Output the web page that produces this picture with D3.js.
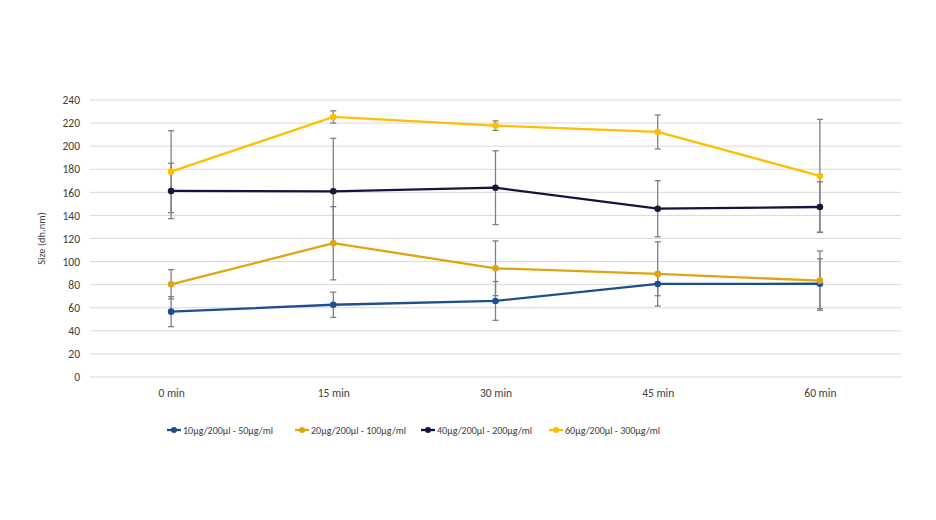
<!DOCTYPE html>
<meta charset="utf-8">
<script src="https://cdn.jsdelivr.net/npm/d3@7"></script>
<style>
body { margin: 0; background: #fff; }
text { font-family: Carlito, Calibri, "Open Sans", "Noto Sans", sans-serif; fill: #404040; }
.grid line { stroke: #d9d9d9; stroke-width: 1; }
.err { stroke: #808080; stroke-width: 1.3; }
</style>
<body>
<script>

var times = ["0 min", "15 min", "30 min", "45 min", "60 min"];
var yTicks = [0, 20, 40, 60, 80, 100, 120, 140, 160, 180, 200, 220, 240];

var names = ["10µg/200µl - 50µg/ml", "20µg/200µl - 100µg/ml", "40µg/200µl - 200µg/ml", "60µg/200µl - 300µg/ml"];
var colors = ["#1f4e8f", "#e0a40f", "#14143f", "#ffbf00"];

// means per series
var s10 = [56.6, 62.6, 65.9, 80.6, 80.8];
var s20 = [80.3, 115.9, 94.2, 89.3, 83.5];
var s40 = [161.2, 160.9, 164.0, 145.8, 147.3];
var s60 = [177.9, 225.3, 217.8, 212.3, 174.2];

// error (+/-) per series
var e10 = [13.0, 10.9, 16.8, 10.2, 21.6];
var e20 = [12.7, 31.7, 23.7, 27.8, 25.7];
var e40 = [24.0, 45.9, 32.0, 24.3, 21.8];
var e60 = [35.5, 5.3, 4.1, 14.7, 49.0];

var means = [s10, s20, s40, s60];
var errs = [e10, e20, e40, e60];

var width = 936, height = 520;
var pLeft = 90, pRight = 901, pTop = 100, pBottom = 377;

var svg = d3.select("body").append("svg")
    .attr("width", width)
    .attr("height", height);

var x = d3.scalePoint().domain(times).range([pLeft, pRight]).padding(0.5);
var y = d3.scaleLinear().domain([0, 240]).range([pBottom, pTop]);

// gridlines
svg.append("g").attr("class", "grid")
  .selectAll("line")
  .data(yTicks)
  .enter().append("line")
  .attr("x1", pLeft).attr("x2", pRight)
  .attr("y1", function(d) { return y(d); })
  .attr("y2", function(d) { return y(d); });

// y axis labels
var ya = svg.append("g")
  .attr("transform", "translate(" + pLeft + ",0)")
  .call(d3.axisLeft(y).tickValues(yTicks).tickSize(0).tickPadding(10));
ya.select(".domain").remove();
ya.selectAll("text").style("font-size", "11.5px").attr("fill", "#404040");

// x axis labels
var xa = svg.append("g")
  .attr("transform", "translate(0," + pBottom + ")")
  .call(d3.axisBottom(x).tickSize(0).tickPadding(12));
xa.select(".domain").remove();
xa.selectAll("text").style("font-size", "11.5px").attr("fill", "#404040");

svg.append("text")
  .attr("transform", "translate(45," + ((pTop + pBottom) / 2) + ") rotate(-90)")
  .attr("text-anchor", "middle")
  .style("font-size", "10.5px")
  .text("Size (dh.nm)");

var line = d3.line()
  .x(function(d, i) { return x(times[i]); })
  .y(function(d) { return y(d); });

// error bars first
means.forEach(function(m, k) {
  var g = svg.append("g");
  m.forEach(function(v, i) {
    var cx = x(times[i]);
    var hi = y(v + errs[k][i]), lo = y(v - errs[k][i]);
    g.append("line").attr("class", "err").attr("x1", cx).attr("x2", cx).attr("y1", hi).attr("y2", lo);
    g.append("line").attr("class", "err").attr("x1", cx - 3).attr("x2", cx + 3).attr("y1", hi).attr("y2", hi);
    g.append("line").attr("class", "err").attr("x1", cx - 3).attr("x2", cx + 3).attr("y1", lo).attr("y2", lo);
  });
});

// lines and markers
means.forEach(function(m, k) {
  svg.append("path")
    .datum(m)
    .attr("fill", "none")
    .attr("stroke", colors[k])
    .attr("stroke-width", 2.3)
    .attr("d", line);
  svg.selectAll(".dot" + k)
    .data(m)
    .enter().append("circle")
    .attr("cx", function(d, i) { return x(times[i]); })
    .attr("cy", function(d) { return y(d); })
    .attr("r", 3.3)
    .attr("fill", colors[k]);
});

// legend
var legX = [167, 295, 421, 549];
names.forEach(function(n, k) {
  var lg = svg.append("g").attr("transform", "translate(" + legX[k] + ",430)");
  lg.append("line").attr("x1", 0).attr("x2", 14).attr("y1", 0).attr("y2", 0)
    .attr("stroke", colors[k]).attr("stroke-width", 2.3);
  lg.append("circle").attr("cx", 7).attr("cy", 0).attr("r", 3).attr("fill", colors[k]);
  lg.append("text").attr("x", 16).attr("y", 3.5).style("font-size", "10px").text(n);
});

</script>
</body>
</html>
